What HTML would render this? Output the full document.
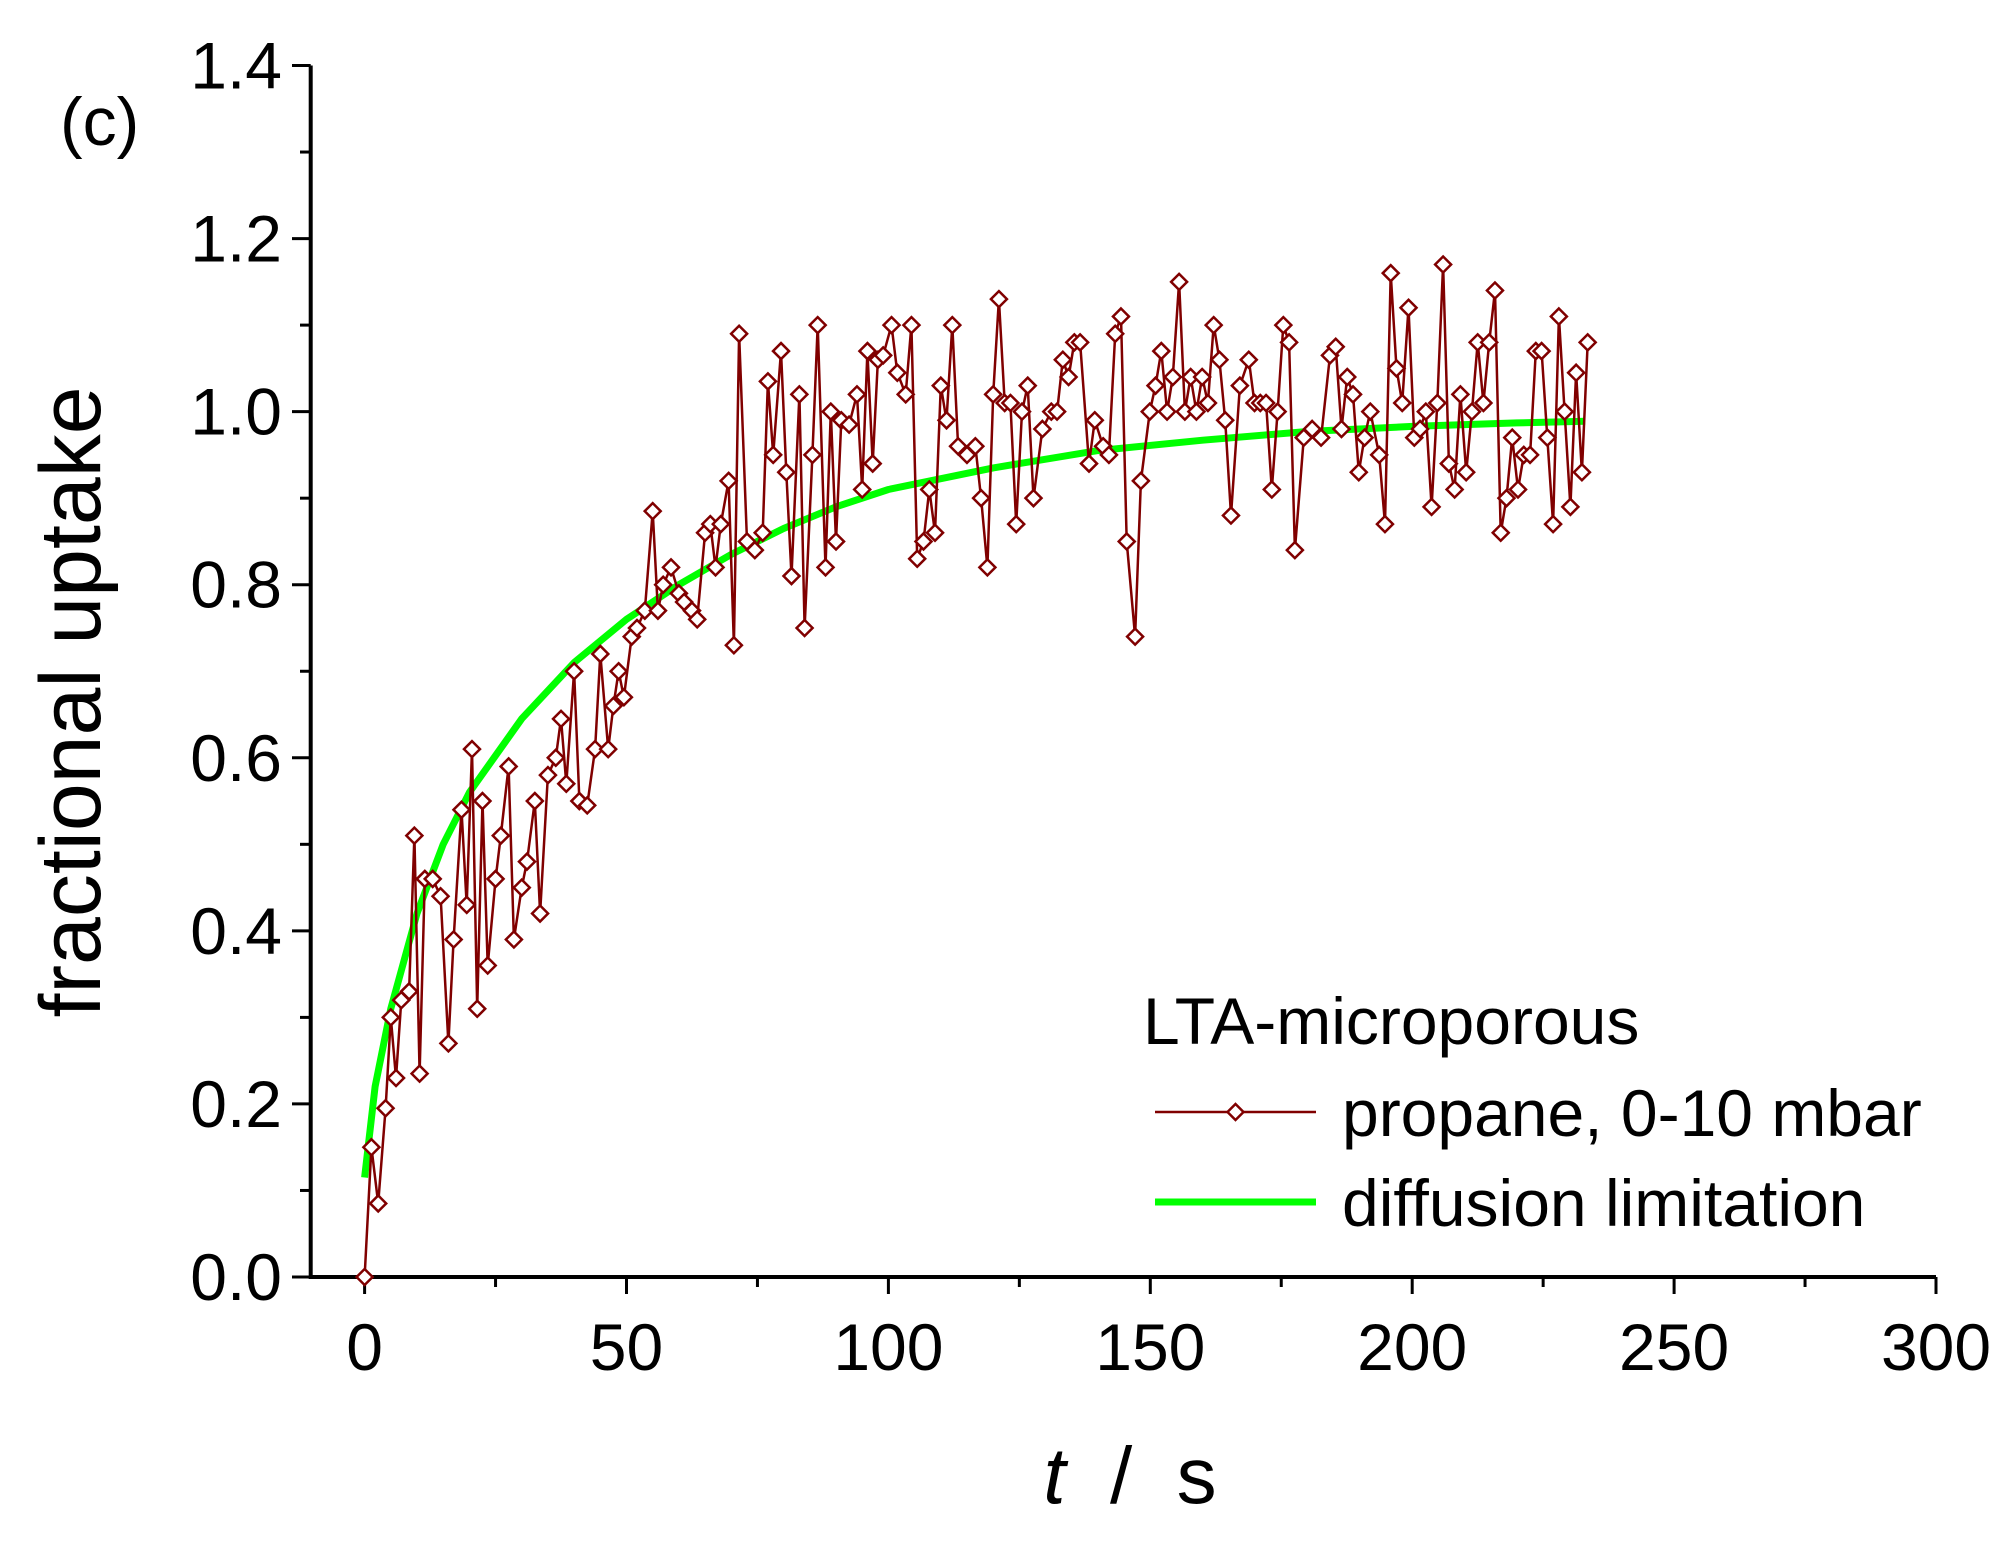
<!DOCTYPE html>
<html><head><meta charset="utf-8"><style>
html,body{margin:0;padding:0;background:#fff}
svg text{font-family:"Liberation Sans",Arial,sans-serif;fill:#000}
</style></head><body>
<svg id="chart" width="2013" height="1539" viewBox="0 0 2013 1539" xmlns="http://www.w3.org/2000/svg">
<g id="axes"></g>
<g id="fit"></g>
<g id="data"></g>
<text x="60" y="145" font-size="68">(c)</text>
<text transform="translate(100,702) rotate(-90)" text-anchor="middle" font-size="86">fractional uptake</text>
<text x="1130" y="1503" text-anchor="middle" font-size="80" xml:space="preserve"><tspan font-style="italic">t</tspan>  /  s</text>
<g>
<text x="1143" y="1044" font-size="66">LTA-microporous</text>
<line x1="1155" y1="1112" x2="1316" y2="1112" stroke="#800000" stroke-width="2.5"/>
<path d="M1235.5 1104 L1243.5 1112 L1235.5 1120 L1227.5 1112 Z" fill="#fff" stroke="#800000" stroke-width="2.5"/>
<text x="1342" y="1136" font-size="66">propane, 0-10 mbar</text>
<line x1="1155" y1="1202" x2="1316" y2="1202" stroke="#00ff00" stroke-width="7"/>
<text x="1342" y="1226" font-size="66">diffusion limitation</text>
</g>
</svg>
<script>
const xTicks=[0,50,100,150,200,250,300];
const yTicks=[0.0,0.2,0.4,0.6,0.8,1.0,1.2,1.4];
const yTickLabels=["0.0","0.2","0.4","0.6","0.8","1.0","1.2","1.4"];
const times=[0,1.3,2.6,4,5,6,7,8.5,9.5,10.5,11.5,13,14.5,16,17,18.5,19.5,20.5,21.5,22.5,23.5,25,26,27.5,28.5,30,31,32.5,33.5,35,36.5,37.5,38.5,40,41,42.5,44,45,46.5,47.5,48.5,49.5,51,52,53.5,55,56,57,58.5,60,61,62.5,63.5,65,66,67,68,69.5,70.5,71.5,73,74.5,76,77,78,79.5,80.5,81.5,83,84,85.5,86.5,88,89,90,91,92.5,94,95,96,97,98,99,100.6,101.7,103.3,104.4,105.5,106.7,107.8,108.9,110,111.1,112.2,113.3,115,116.6,117.7,118.9,120,121.1,122.2,123.3,124.4,125.5,126.6,127.7,129.4,131.1,132.2,133.3,134.4,135.5,136.6,138.3,139.4,141,142.1,143.3,144.4,145.5,147.1,148.2,149.9,151,152.1,153.2,154.3,155.5,156.6,157.7,158.8,159.9,161,162.1,163.2,164.3,165.4,167.1,168.8,169.9,171,172.1,173.2,174.3,175.4,176.5,177.6,179.3,180.9,182.6,184.3,185.4,186.5,187.6,188.7,189.8,190.9,192,193.7,194.8,195.9,197,198.1,199.3,200.4,201.5,202.6,203.7,204.8,205.9,207,208.1,209.2,210.3,211.4,212.5,213.6,214.7,215.8,216.9,218,219.1,220.2,221.3,222.5,223.6,224.7,225.8,226.9,228,229.1,230.2,231.3,232.4,233.5];
const uptake=[0,0.15,0.085,0.195,0.30,0.23,0.32,0.33,0.51,0.235,0.46,0.46,0.44,0.27,0.39,0.54,0.43,0.61,0.31,0.55,0.36,0.46,0.51,0.59,0.39,0.45,0.48,0.55,0.42,0.58,0.60,0.645,0.57,0.70,0.55,0.545,0.61,0.72,0.61,0.66,0.70,0.67,0.74,0.75,0.77,0.885,0.77,0.80,0.82,0.79,0.78,0.77,0.76,0.86,0.87,0.82,0.87,0.92,0.73,1.09,0.85,0.84,0.86,1.035,0.95,1.07,0.93,0.81,1.02,0.75,0.95,1.10,0.82,1.0,0.85,0.99,0.985,1.02,0.91,1.07,0.94,1.06,1.065,1.10,1.045,1.02,1.10,0.83,0.85,0.91,0.86,1.03,0.99,1.10,0.96,0.95,0.96,0.90,0.82,1.02,1.13,1.01,1.01,0.87,1.0,1.03,0.90,0.98,1.0,1.0,1.06,1.04,1.08,1.08,0.94,0.99,0.96,0.95,1.09,1.11,0.85,0.74,0.92,1.0,1.03,1.07,1.0,1.04,1.15,1.0,1.04,1.0,1.04,1.01,1.10,1.06,0.99,0.88,1.03,1.06,1.01,1.01,1.01,0.91,1.00,1.10,1.08,0.84,0.97,0.98,0.97,1.065,1.075,0.98,1.04,1.02,0.93,0.97,1.0,0.95,0.87,1.16,1.05,1.01,1.12,0.97,0.98,1.0,0.89,1.01,1.17,0.94,0.91,1.02,0.93,1.0,1.08,1.01,1.08,1.14,0.86,0.90,0.97,0.91,0.95,0.95,1.07,1.07,0.97,0.87,1.11,1.0,0.89,1.045,0.93,1.08];
const fitT=[0,2,5,10,15,20,30,40,50,60,70,80,90,100,120,140,160,180,200,220,233];
const fitV=[0.115,0.22,0.31,0.42,0.50,0.56,0.645,0.71,0.76,0.80,0.835,0.865,0.89,0.91,0.935,0.955,0.967,0.977,0.983,0.987,0.989];

const NS="http://www.w3.org/2000/svg";
const X0=364.6,XS=(1936-364.6)/300,Y0=1277,YS=(1277-65.5)/1.4;
function xs(t){return X0+t*XS;}
function ys(v){return Y0-v*YS;}
function mk(tag,attrs,parent){const e=document.createElementNS(NS,tag);for(const k in attrs)e.setAttribute(k,attrs[k]);parent.appendChild(e);return e;}
const axes=document.getElementById('axes');
let e;
e=mk('line',{x1:310.7,y1:Y0,x2:1936,y2:Y0,stroke:'#000','stroke-width':4},axes);


e=mk('line',{x1:310.7,y1:Y0+2,x2:310.7,y2:65.5,stroke:'#000','stroke-width':4},axes);


yTicks.forEach((v,i)=>{
  mk('line',{x1:292,y1:ys(v),x2:310.7,y2:ys(v),stroke:'#000','stroke-width':3},axes);
  if(i<yTicks.length-1)mk('line',{x1:300,y1:ys(v+0.1),x2:310.7,y2:ys(v+0.1),stroke:'#000','stroke-width':3},axes);
  const t=mk('text',{x:282,y:ys(v)+23,'text-anchor':'end','font-size':66},axes);
  t.textContent=yTickLabels[i];
  
  
});
xTicks.forEach((v,i)=>{
  mk('line',{x1:xs(v),y1:Y0,x2:xs(v),y2:Y0+17,stroke:'#000','stroke-width':3},axes);
  if(i<xTicks.length-1)mk('line',{x1:xs(v+25),y1:Y0,x2:xs(v+25),y2:Y0+10,stroke:'#000','stroke-width':3},axes);
  const t=mk('text',{x:xs(v),y:1370,'text-anchor':'middle','font-size':66},axes);
  t.textContent=String(v);
  
  
});
const fit=document.getElementById('fit');
const fp=fitT.map((t,i)=>xs(t).toFixed(1)+','+ys(fitV[i]).toFixed(1)).join(' ');
e=mk('polyline',{points:fp,fill:'none',stroke:'#00ff00','stroke-width':7,'stroke-linejoin':'round'},fit);


const data=document.getElementById('data');
const n=Math.min(times.length,uptake.length);
let pts=[];
for(let i=0;i<n;i++)pts.push(xs(times[i]).toFixed(1)+','+ys(uptake[i]).toFixed(1));
e=mk('polyline',{points:pts.join(' '),fill:'none',stroke:'#800000','stroke-width':2.5},data);


for(let i=0;i<n;i++){
  const x=xs(times[i]),y=ys(uptake[i]),s=8;
  const d=mk('path',{d:`M${x} ${y-s} L${x+s} ${y} L${x} ${y+s} L${x-s} ${y} Z`,fill:'#fff',stroke:'#800000','stroke-width':2.5},data);
  
  
}
</script>
</body></html>
